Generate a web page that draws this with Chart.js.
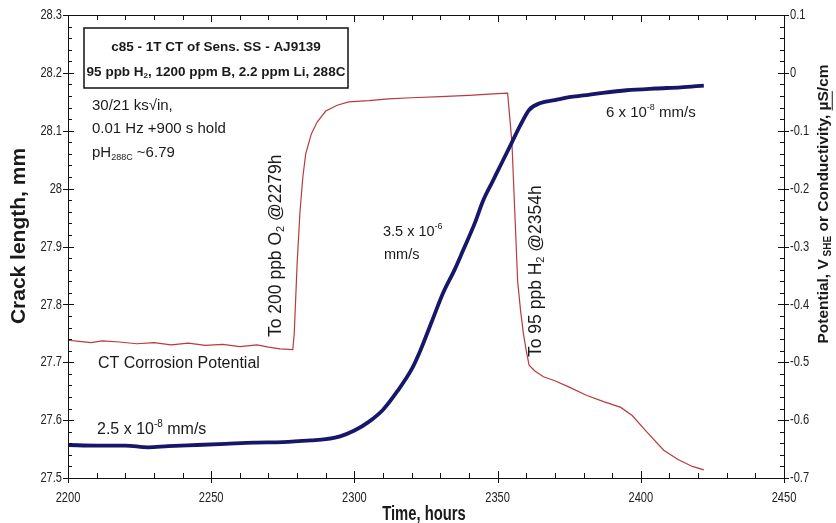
<!DOCTYPE html>
<html>
<head>
<meta charset="utf-8">
<script src="https://cdn.jsdelivr.net/npm/chart.js@4"></script>
<style>
html,body{margin:0;padding:0;background:#fff;}
</style>
</head>
<body>
<canvas id="crackChart" width="836" height="523"></canvas>
<script>
// crack length (left axis)
const crackHours = [2200,2210,2220,2228,2235,2245,2255,2265,2275,2285,2290,2295,2300,2305,2310,2315,2320,2323,2327,2331,2335,2338,2342,2345,2348,2351,2355,2358,2361,2365,2370,2375,2380,2386,2395,2405,2414,2422];
const crackLength = [27.557,27.556,27.556,27.553,27.555,27.557,27.559,27.561,27.562,27.565,27.567,27.572,27.582,27.597,27.618,27.65,27.688,27.72,27.77,27.82,27.86,27.894,27.94,27.98,28.01,28.04,28.08,28.11,28.136,28.148,28.153,28.158,28.161,28.165,28.17,28.173,28.175,28.178];

// corrosion potential (right axis)
const potHours = [2200,2204,2208,2212,2218,2224,2230,2236,2242,2248,2254,2260,2266,2270,2274,2278.5,2279,2280,2281,2282,2283,2285,2287,2290,2294,2298,2305,2312,2320,2330,2340,2350,2353.5,2355,2356,2357,2358,2359,2360,2361,2363,2366,2370,2375,2381,2387,2393,2397,2402,2408,2413,2418,2422];
const potential = [-0.462,-0.464,-0.466,-0.463,-0.465,-0.468,-0.466,-0.47,-0.467,-0.471,-0.469,-0.473,-0.47,-0.474,-0.477,-0.478,-0.45,-0.33,-0.24,-0.18,-0.14,-0.105,-0.085,-0.066,-0.056,-0.05,-0.048,-0.045,-0.043,-0.041,-0.039,-0.036,-0.035,-0.12,-0.24,-0.36,-0.41,-0.45,-0.48,-0.505,-0.515,-0.525,-0.532,-0.543,-0.557,-0.568,-0.578,-0.592,-0.62,-0.652,-0.668,-0.68,-0.686];

const timeTicks = [2200,2250,2300,2350,2400,2450];
const crackTicks = [27.5,27.6,27.7,27.8,27.9,28,28.1,28.2,28.3];
const potTicks = [-0.7,-0.6,-0.5,-0.4,-0.3,-0.2,-0.1,0,0.1];

const FONT = "'Liberation Sans', Arial, sans-serif";

// draw a run of text pieces, some of them sub/superscript
function richText(ctx, x, y, parts, size, weight) {
  ctx.textBaseline = 'middle';
  ctx.textAlign = 'left';
  let cx = x;
  parts.forEach(p => {
    const s = p.sub || p.sup ? Math.round(size * 0.62) : size;
    ctx.font = (weight || '') + ' ' + s + 'px ' + FONT;
    const dy = p.sub ? size * 0.3 : (p.sup ? -size * 0.38 : 0);
    ctx.fillText(p.t, cx, y + dy);
    const w = ctx.measureText(p.t).width;
    if (p.u) ctx.fillRect(cx, y + size * 0.5, w, 1);
    cx += w;
  });
  return cx - x;
}
function richWidth(ctx, parts, size, weight) {
  let w = 0;
  parts.forEach(p => {
    const s = p.sub || p.sup ? Math.round(size * 0.62) : size;
    ctx.font = (weight || '') + ' ' + s + 'px ' + FONT;
    w += ctx.measureText(p.t).width;
  });
  return w;
}
// condensed single-line text
function narrowText(ctx, str, x, y, size, align, weight) {
  ctx.save();
  ctx.translate(x, y);
  ctx.scale(0.74, 1);
  ctx.font = (weight || '') + ' ' + size + 'px ' + FONT;
  ctx.textAlign = align;
  ctx.textBaseline = 'middle';
  ctx.fillText(str, 0, 0);
  ctx.restore();
}
const fmt = v => String(+v.toFixed(1));

// frame, tick marks on all four sides and the tick labels
const frameTicks = {
  id: 'frameTicks',
  afterDraw(chart) {
    const {ctx, chartArea: a, scales} = chart;
    ctx.save();
    ctx.strokeStyle = '#111';
    ctx.lineWidth = 1;
    ctx.strokeRect(Math.round(a.left) + 0.5, Math.round(a.top) + 0.5, Math.round(a.right - a.left), Math.round(a.bottom - a.top));
    ctx.beginPath();
    for (let i = 0; i <= 25; i++) {
      const px = Math.round(scales.x.getPixelForValue(2200 + i * 10)) + 0.5;
      const major = i % 5 === 0;
      ctx.moveTo(px, a.bottom - (major ? 7 : 5));
      ctx.lineTo(px, a.bottom + (major ? 5 : 0));
      ctx.moveTo(px, a.top);
      ctx.lineTo(px, a.top + (major ? 7 : 5));
    }
    for (let i = 0; i <= 40; i++) {
      const py = Math.round(scales.y.getPixelForValue(27.5 + i * 0.02)) + 0.5;
      const major = i % 5 === 0;
      ctx.moveTo(a.left - (major ? 5 : 0), py);
      ctx.lineTo(a.left + (major ? 6 : 4), py);
      ctx.moveTo(a.right - (major ? 6 : 4), py);
      ctx.lineTo(a.right + (major ? 5 : 0), py);
    }
    ctx.stroke();

    ctx.fillStyle = '#222';
    timeTicks.forEach(v => narrowText(ctx, String(v), scales.x.getPixelForValue(v), a.bottom + 20, 15, 'center'));
    crackTicks.forEach(v => narrowText(ctx, fmt(v), a.left - 6, scales.y.getPixelForValue(v), 15, 'right'));
    potTicks.forEach(v => narrowText(ctx, fmt(v), a.right + 6, scales.y1.getPixelForValue(v), 15, 'left'));
    ctx.restore();
  }
};

// text labels on the plot
const notes = {
  id: 'notes',
  afterDraw(chart) {
    const ctx = chart.ctx;
    ctx.save();

    // boxed heading
    const l1 = [{t: 'c85 - 1T CT of Sens. SS - AJ9139'}];
    const l2 = [{t: '95 ppb H'}, {t: '2', sub: true}, {t: ', 1200 ppm B, 2.2 ppm Li, 288C'}];
    const bx = 84, by = 28, bw = 264, bh = 60;
    ctx.fillStyle = '#fff';
    ctx.fillRect(bx, by, bw, bh);
    ctx.strokeStyle = '#111';
    ctx.lineWidth = 1.5;
    ctx.strokeRect(bx, by, bw, bh);
    ctx.fillStyle = '#1a1a1a';
    richText(ctx, bx + (bw - richWidth(ctx, l1, 13.5, 'bold')) / 2, 47, l1, 13.5, 'bold');
    richText(ctx, bx + (bw - richWidth(ctx, l2, 13.5, 'bold')) / 2, 72, l2, 13.5, 'bold');

    richText(ctx, 92, 106, [{t: '30/21 ks\u221Ain,'}], 15);
    richText(ctx, 92, 129, [{t: '0.01 Hz +900 s hold'}], 15);
    richText(ctx, 92, 153, [{t: 'pH'}, {t: '288C', sub: true}, {t: ' ~6.79'}], 15);

    richText(ctx, 98, 364, [{t: 'CT Corrosion Potential'}], 16);
    richText(ctx, 97, 430, [{t: '2.5 x 10'}, {t: '-8', sup: true}, {t: ' mm/s'}], 16);
    richText(ctx, 383, 232, [{t: '3.5 x 10'}, {t: '-6', sup: true}], 14.5);
    richText(ctx, 384, 255, [{t: 'mm/s'}], 14.5);
    richText(ctx, 606, 113, [{t: '6 x 10'}, {t: '-8', sup: true}, {t: ' mm/s'}], 15);

    // rotated event markers
    ctx.save();
    ctx.translate(276, 337);
    ctx.rotate(-Math.PI / 2);
    richText(ctx, 0, 0, [{t: 'To 200 ppb O'}, {t: '2', sub: true}, {t: ' @2279h'}], 17.5);
    ctx.restore();
    ctx.save();
    ctx.translate(536, 357);
    ctx.rotate(-Math.PI / 2);
    richText(ctx, 0, 0, [{t: 'To 95 ppb H'}, {t: '2', sub: true}, {t: ' @2354h'}], 17.5);
    ctx.restore();

    // axis titles
    ctx.save();
    ctx.translate(19, 236);
    ctx.rotate(-Math.PI / 2);
    const yt = [{t: 'Crack length, mm'}];
    richText(ctx, -richWidth(ctx, yt, 21, 'bold') / 2, 0, yt, 21, 'bold');
    ctx.restore();

    ctx.save();
    ctx.translate(824, 204);
    ctx.rotate(-Math.PI / 2);
    const rt = [{t: 'Potential, V'}, {t: ' SHE', sub: true}, {t: ' or Conductivity, '}, {t: '\u00B5S', u: true}, {t: '/cm'}];
    richText(ctx, -richWidth(ctx, rt, 15.5, 'bold') / 2, 0, rt, 15.5, 'bold');
    ctx.restore();

    narrowText(ctx, 'Time, hours', 424, 514, 20, 'center', 'bold');
    ctx.restore();
  }
};

new Chart(document.getElementById('crackChart'), {
  type: 'line',
  data: {
    datasets: [{
      label: 'Crack length',
      data: crackHours.map((h, i) => ({x: h, y: crackLength[i]})),
      borderColor: '#16166a',
      borderWidth: 3.8,
      pointRadius: 0,
      cubicInterpolationMode: 'monotone',
      yAxisID: 'y'
    }, {
      label: 'CT Corrosion Potential',
      data: potHours.map((h, i) => ({x: h, y: potential[i]})),
      borderColor: '#b93a3e',
      borderWidth: 1.2,
      pointRadius: 0,
      tension: 0,
      yAxisID: 'y1'
    }]
  },
  options: {
    responsive: false,
    animation: false,
    devicePixelRatio: 1,
    layout: {padding: {top: 15, left: 0, right: 0, bottom: 0}},
    plugins: {legend: {display: false}, tooltip: {enabled: false}},
    scales: {
      x: {
        type: 'linear', min: 2200, max: 2450,
        afterBuildTicks: s => { s.ticks = timeTicks.map(v => ({value: v})); },
        afterFit: s => { s.height = 45; },
        ticks: {display: false},
        grid: {display: false}, border: {display: false}
      },
      y: {
        position: 'left', min: 27.5, max: 28.3,
        afterBuildTicks: s => { s.ticks = crackTicks.map(v => ({value: v})); },
        afterFit: s => { s.width = 68; },
        ticks: {display: false},
        grid: {display: false}, border: {display: false}
      },
      y1: {
        position: 'right', min: -0.7, max: 0.1,
        afterBuildTicks: s => { s.ticks = potTicks.map(v => ({value: v})); },
        afterFit: s => { s.width = 52; },
        ticks: {display: false},
        grid: {display: false}, border: {display: false}
      }
    }
  },
  plugins: [frameTicks, notes]
});
</script>
</body>
</html>
